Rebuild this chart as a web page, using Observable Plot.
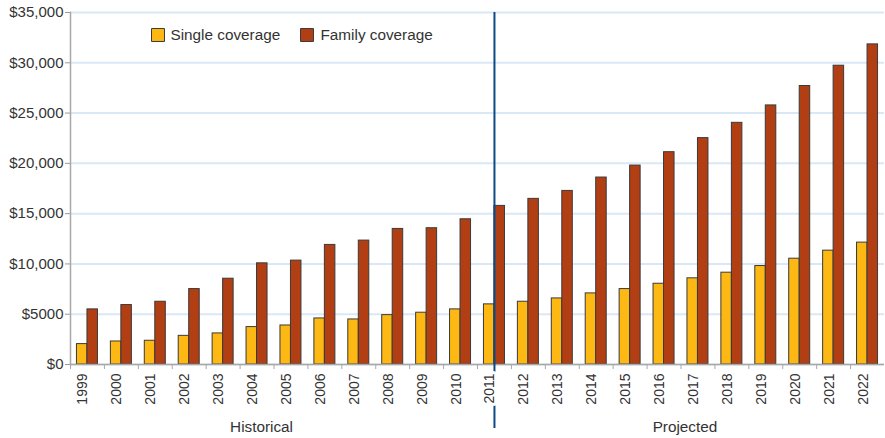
<!DOCTYPE html>
<html>
<head>
<meta charset="utf-8">
<script src="https://cdn.jsdelivr.net/npm/d3@7"></script>
<script src="https://cdn.jsdelivr.net/npm/@observablehq/plot@0.6"></script>
<style>
  html, body { margin: 0; padding: 0; background: #fff; }
  #chart { width: 885px; height: 438px; }
</style>
</head>
<body>
<div id="chart"></div>
<script>
const years = ["1999","2000","2001","2002","2003","2004","2005","2006","2007","2008","2009","2010",
               "2011","2012","2013","2014","2015","2016","2017","2018","2019","2020","2021","2022"];
const single = [2030, 2290, 2360, 2850, 3090, 3720, 3880, 4580, 4480, 4910, 5150, 5480,
                5980, 6240, 6570, 7070, 7500, 8030, 8570, 9130, 9790, 10520, 11320, 12120];
const family = [5480, 5910, 6240, 7500, 8530, 10060, 10330, 11890, 12320, 13480, 13550, 14440,
                15770, 16470, 17260, 18590, 19780, 21110, 22510, 24030, 25760, 27690, 29710, 31830];
const yTicks = [0, 5000, 10000, 15000, 20000, 25000, 30000, 35000];
const yTickLabels = ["$0", "$5000", "$10,000", "$15,000", "$20,000", "$25,000", "$30,000", "$35,000"];
const seriesNames = ["Single coverage", "Family coverage"];
const seriesColors = ["#FDB813", "#B23F13"];
const splitYear = "2011";
const periodLabels = ["Historical", "Projected"];
const periodAnchors = ["2004", "2017"];

const data = years.map((year, i) => ({year, single: single[i], family: family[i]}));

const W = 885, H = 438, mL = 70, mR = 1;
const band = (W - mL - mR) / years.length;
const barW = 10.5;
const outer = (band - 2 * barW) / 2;
const textStyle = {fill: "#333", fontSize: 15.3};

const chart = Plot.plot({
  width: W,
  height: H,
  marginLeft: mL,
  marginRight: mR,
  marginTop: 12,
  marginBottom: 74,
  style: {fontFamily: "'Liberation Sans', Arial, sans-serif", fontSize: "14px", color: "#333", background: "#fff"},
  x: {domain: years, padding: 0, round: false, axis: null, label: null},
  y: {domain: [0, 35000], axis: null, label: null},
  marks: [
    Plot.gridY(yTicks, {stroke: "#dae8f6", strokeOpacity: 1, strokeWidth: 2}),
    Plot.axisY(yTicks, {tickSize: 5, tickPadding: 2, stroke: "#9a9a9a", fill: "#333", fontSize: 15,
                        label: null, tickFormat: d => yTickLabels[yTicks.indexOf(d)]}),
    Plot.frame({anchor: "left", stroke: "#a8a8a8", strokeWidth: 1.5}),
    Plot.barY(data, {x: "year", y: "single", fill: seriesColors[0], stroke: "#3a3a3a", strokeWidth: 1,
                     insetLeft: outer, insetRight: outer + barW}),
    Plot.barY(data, {x: "year", y: "family", fill: seriesColors[1], stroke: "#3a3a3a", strokeWidth: 1,
                     insetLeft: outer + barW, insetRight: outer}),
    Plot.ruleY([0], {stroke: "#a8a8a8", strokeWidth: 1.5}),
    Plot.axisX(years, {tickSize: 5, tickFormat: () => "", label: null, stroke: "#a8a8a8", dx: -band / 2}),
    Plot.ruleX([splitYear], {y1: 35000, y2: 0, insetBottom: -64, stroke: "#0b4a85", strokeWidth: 2}),
    Plot.text(years, {x: d => d, text: d => d, frameAnchor: "bottom", rotate: -90, textAnchor: "end",
                      dy: 9, stroke: "white", strokeWidth: 6, fill: "#333", fontSize: 14}),
    Plot.text([periodLabels[0]], {x: () => periodAnchors[0], text: d => d, frameAnchor: "bottom",
                                  lineAnchor: "middle", dy: 63, dx: 4.5, ...textStyle}),
    Plot.text([periodLabels[1]], {x: () => periodAnchors[1], text: d => d, frameAnchor: "bottom",
                                  lineAnchor: "middle", dy: 63, dx: -13, ...textStyle}),
    // legend
    Plot.dot([seriesNames[0]], {frameAnchor: "top-left", dx: 87.5, dy: 22.5, symbol: "square", r: 7.3,
                                fill: seriesColors[0], stroke: "#3a3a3a", strokeWidth: 1}),
    Plot.text([seriesNames[0]], {frameAnchor: "top-left", dx: 100, dy: 22.5, text: d => d,
                                 textAnchor: "start", lineAnchor: "middle", ...textStyle}),
    Plot.dot([seriesNames[1]], {frameAnchor: "top-left", dx: 236.5, dy: 22.5, symbol: "square", r: 7.3,
                                fill: seriesColors[1], stroke: "#3a3a3a", strokeWidth: 1}),
    Plot.text([seriesNames[1]], {frameAnchor: "top-left", dx: 250, dy: 22.5, text: d => d,
                                 textAnchor: "start", lineAnchor: "middle", ...textStyle})
  ]
});

document.getElementById("chart").append(chart);
</script>
</body>
</html>
